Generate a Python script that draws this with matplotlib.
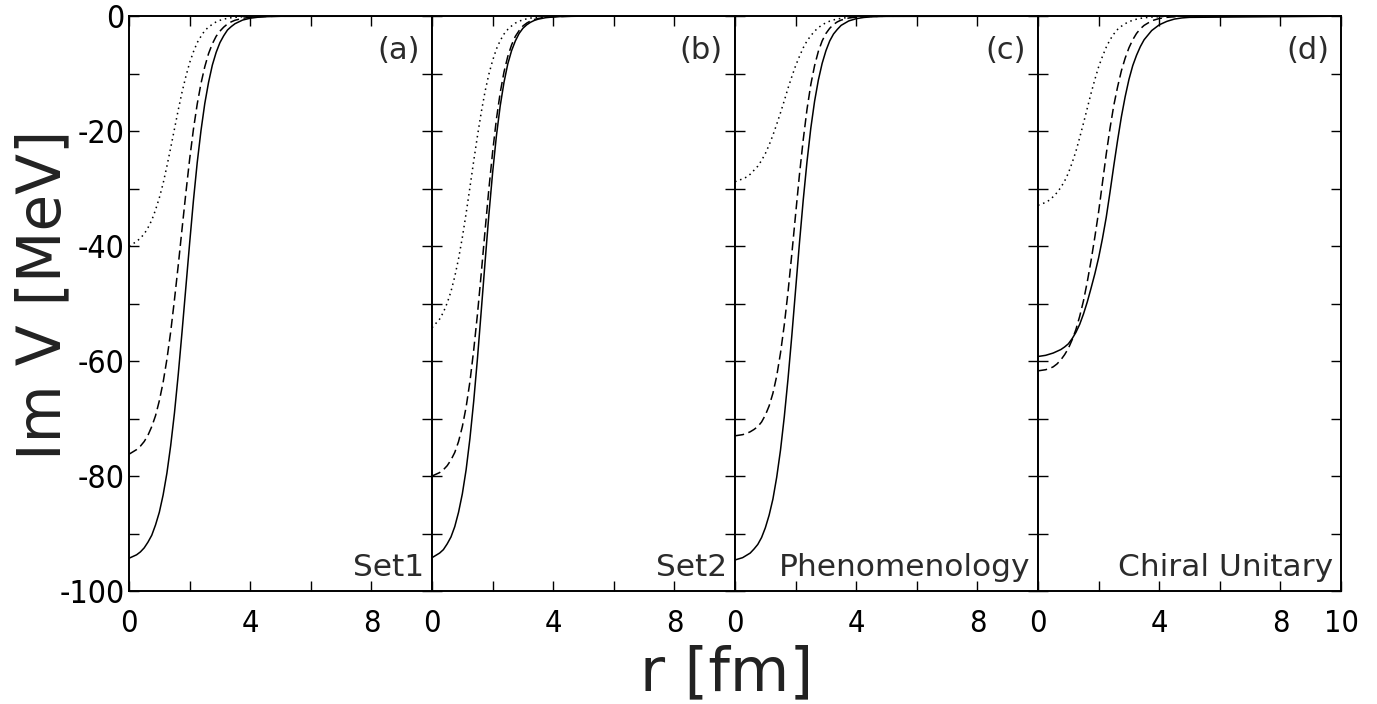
import matplotlib
matplotlib.use("Agg")
import matplotlib.pyplot as plt
from matplotlib.ticker import MultipleLocator, FixedLocator

plt.rcParams["axes.unicode_minus"] = False

# radius grid [fm] shared by all curves
r = [0.0, 0.25, 0.375, 0.5, 0.625, 0.75, 0.875, 1.0, 1.125, 1.25, 1.375, 1.5,
     1.625, 1.75, 1.875, 2.0, 2.125, 2.25, 2.375, 2.5, 2.625, 2.75, 2.875, 3.0,
     3.125, 3.25, 3.375, 3.5, 3.75, 4.0, 4.25, 4.5, 4.75, 5.0, 10.0]

# Im V [MeV]
set1_solid = [-94.3, -93.7, -93.2, -92.5, -91.5, -90.3, -88.5, -86.3, -83.3, -79.5, -74.7, -69.0,
              -62.3, -54.9, -47.2, -39.5, -32.1, -25.5, -19.9, -15.2, -11.5, -8.5, -6.3, -4.6,
              -3.4, -2.4, -1.8, -1.3, -0.67, -0.35, -0.18, -0.09, -0.05, -0.02, 0.0]
set1_dashed = [-76.2, -75.4, -74.8, -74.0, -72.9, -71.4, -69.5, -66.9, -63.7, -59.7, -54.9, -49.3,
               -43.3, -37.0, -30.8, -24.9, -19.7, -15.3, -11.7, -8.8, -6.5, -4.8, -3.5, -2.6,
               -1.9, -1.35, -0.98, -0.7, -0.37, -0.19, -0.1, -0.05, -0.02, -0.01, 0.0]
set1_dotted = [-40.0, -39.2, -38.6, -37.9, -36.8, -35.5, -33.7, -31.6, -29.1, -26.1, -22.9, -19.6,
               -16.3, -13.2, -10.5, -8.1, -6.2, -4.6, -3.5, -2.5, -1.9, -1.4, -0.99, -0.72,
               -0.52, -0.37, -0.27, -0.2, -0.1, -0.05, -0.02, -0.01, 0.0, 0.0, 0.0]

set2_solid = [-94.2, -93.4, -92.8, -91.8, -90.6, -88.8, -86.3, -83.1, -78.9, -73.5, -67.0, -59.5,
              -51.2, -42.8, -34.6, -27.2, -20.8, -15.6, -11.5, -8.3, -6.0, -4.3, -3.0, -2.1,
              -1.5, -1.06, -0.74, -0.52, -0.26, -0.13, -0.06, -0.03, -0.01, 0.0, 0.0]
set2_dashed = [-80.0, -79.4, -78.9, -78.2, -77.2, -75.9, -74.0, -71.4, -68.0, -63.6, -58.1, -51.8,
               -44.7, -37.3, -30.1, -23.6, -17.9, -13.3, -9.7, -7.0, -5.0, -3.5, -2.5, -1.7,
               -1.2, -0.83, -0.58, -0.4, -0.2, -0.1, -0.05, -0.02, 0.0, 0.0, 0.0]
set2_dotted = [-54.2, -52.7, -51.5, -49.9, -47.9, -45.3, -42.2, -38.5, -34.3, -29.8, -25.2, -20.8,
               -16.7, -13.1, -10.1, -7.7, -5.7, -4.25, -3.1, -2.3, -1.7, -1.2, -0.87, -0.63,
               -0.46, -0.33, -0.24, -0.17, -0.09, -0.05, -0.02, 0.0, 0.0, 0.0, 0.0]

phen_solid = [-94.6, -94.2, -93.8, -93.4, -92.7, -91.9, -90.7, -89.0, -86.8, -84.0, -80.2, -75.5,
              -69.7, -63.0, -55.5, -47.5, -39.5, -32.0, -25.3, -19.5, -14.8, -11.1, -8.2, -6.0,
              -4.3, -3.1, -2.3, -1.6, -0.83, -0.43, -0.22, -0.11, -0.06, -0.03, 0.0]
phen_dashed = [-73.0, -72.8, -72.6, -72.3, -71.9, -71.4, -70.6, -69.4, -67.8, -65.6, -62.6, -58.6,
               -53.7, -47.9, -41.3, -34.4, -27.6, -21.5, -16.2, -11.9, -8.6, -6.1, -4.3, -3.0,
               -2.1, -1.44, -0.99, -0.68, -0.32, -0.15, -0.07, -0.03, -0.01, 0.0, 0.0]
phen_dotted = [-28.8, -28.3, -28.0, -27.5, -26.8, -26.1, -25.1, -23.9, -22.4, -20.7, -18.8, -16.8,
               -14.7, -12.5, -10.5, -8.6, -7.0, -5.5, -4.3, -3.4, -2.6, -2.0, -1.5, -1.15,
               -0.86, -0.65, -0.49, -0.37, -0.21, -0.12, -0.07, -0.04, -0.02, -0.01, 0.0]

chiral_solid = [-59.2, -59.0, -58.8, -58.6, -58.3, -58.0, -57.55, -57.0, -56.1, -55.0, -53.6, -51.8,
                -49.7, -47.3, -44.8, -42.0, -38.7, -35.0, -30.6, -26.0, -21.6, -17.5, -14.0, -11.0,
                -8.6, -6.8, -5.3, -4.1, -2.5, -1.5, -0.9, -0.5, -0.3, -0.2, 0.0]
chiral_dashed = [-61.7, -61.5, -61.3, -61.0, -60.5, -59.8, -58.9, -57.8, -56.3, -54.5, -52.2, -49.5,
                 -46.2, -42.5, -38.4, -34.0, -29.0, -24.0, -19.5, -15.5, -12.3, -9.5, -7.3, -5.5,
                 -4.1, -3.0, -2.2, -1.6, -0.8, -0.4, -0.2, -0.1, 0.0, 0.0, 0.0]
chiral_dotted = [-32.9, -32.4, -32.0, -31.4, -30.7, -29.8, -28.7, -27.3, -25.5, -23.5, -21.1, -18.6,
                 -16.0, -13.4, -11.0, -8.8, -7.0, -5.4, -4.1, -3.1, -2.3, -1.75, -1.3, -0.96,
                 -0.71, -0.52, -0.38, -0.28, -0.15, -0.08, -0.04, -0.02, -0.01, 0.0, 0.0]

panel_tags = ["(a)", "(b)", "(c)", "(d)"]
panel_names = ["Set1", "Set2", "Phenomenology", "Chiral Unitary"]
panel_data = [
    (set1_solid, set1_dashed, set1_dotted),
    (set2_solid, set2_dashed, set2_dotted),
    (phen_solid, phen_dashed, phen_dotted),
    (chiral_solid, chiral_dashed, chiral_dotted),
]

fig, axes = plt.subplots(1, 4, figsize=(13.77, 7.04), dpi=100, sharey=True)
fig.subplots_adjust(left=0.0937, right=0.9739, top=0.977, bottom=0.1605, wspace=0)

for i, ax in enumerate(axes):
    solid, dashed, dotted = panel_data[i]
    ax.plot(r, dotted, color="black", lw=1.1, linestyle=(0, (1, 2.5)))
    ax.plot(r, dashed, color="black", lw=1.1, linestyle=(0, (6, 3)))
    ax.plot(r, solid, color="black", lw=1.1)

    ax.set_xlim(0, 10)
    ax.set_ylim(-100, 0)

    if i == 3:
        ax.xaxis.set_major_locator(FixedLocator([0, 4, 8, 10]))
        ax.xaxis.set_minor_locator(FixedLocator([2, 6]))
    else:
        ax.xaxis.set_major_locator(FixedLocator([0, 4, 8]))
        ax.xaxis.set_minor_locator(FixedLocator([2, 6, 10]))
    ax.yaxis.set_major_locator(MultipleLocator(20))
    ax.yaxis.set_minor_locator(MultipleLocator(10))

    ax.tick_params(which="both", direction="in", top=True, right=True,
                   length=7, width=1, colors="black")
    ax.tick_params(axis="x", which="major", pad=13, labelsize=22)
    ax.tick_params(axis="y", which="major", pad=3, labelsize=23)
    for lab in ax.get_xticklabels() + ax.get_yticklabels():
        lab.set_fontstretch("condensed")

    for sp in ax.spines.values():
        sp.set_linewidth(1.4)

    ax.text(0.96, 0.965, panel_tags[i], transform=ax.transAxes, ha="right", va="top",
            fontsize=22, color="#2b2b2b")
    ax.text(0.975, 0.015, panel_names[i], transform=ax.transAxes, ha="right", va="bottom",
            fontsize=22.5, color="#2b2b2b")

fig.text(0.032, 0.581, "Im V [MeV]", rotation=90, ha="center", va="center",
         fontsize=43, color="#222222")
fig.text(0.528, 0.02, "r [fm]", ha="center", va="baseline", fontsize=44, color="#222222")

plt.savefig("out.png", dpi=100)
